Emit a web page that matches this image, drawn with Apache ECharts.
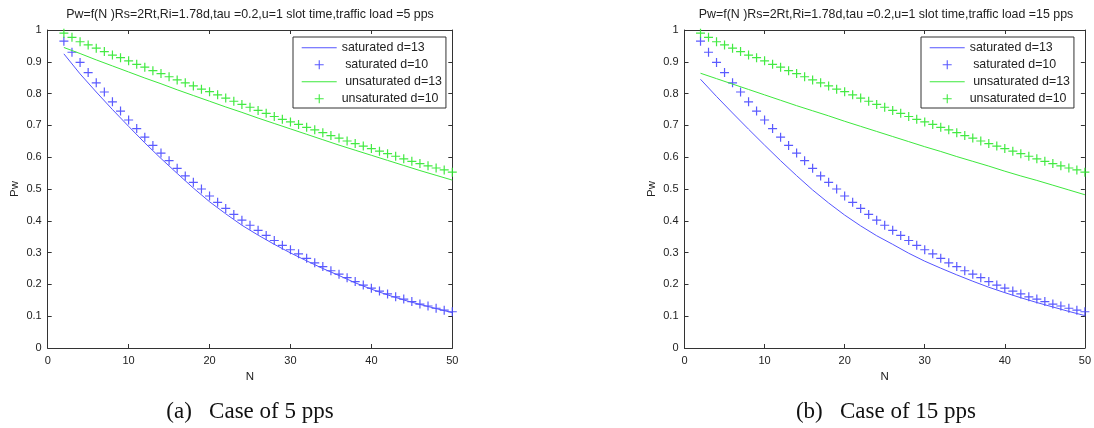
<!DOCTYPE html>
<html>
<head>
<meta charset="utf-8">
<script src="https://cdn.jsdelivr.net/npm/echarts@6/dist/echarts.min.js"></script>
<style>html,body{margin:0;padding:0;background:#fff;}#c{width:1094px;height:428px;}</style>
</head>
<body>
<div id="c"></div>
<script>
// ---- data ----
const xTicks = [0, 10, 20, 30, 40, 50];
const yTicks = [0, 0.1, 0.2, 0.3, 0.4, 0.5, 0.6, 0.7, 0.8, 0.9, 1];
const nMarkers = [2,3,4,5,6,7,8,9,10,11,12,13,14,15,16,17,18,19,20,21,22,23,24,25,26,27,28,29,30,31,32,33,34,35,36,37,38,39,40,41,42,43,44,45,46,47,48,49,50];
const nLine = [2,4,6,8,10,12,14,16,18,20,22,24,26,28,30,32,34,36,38,40,42,44,46,48,50];

// saturated d=10 (markers, same in both panels)
const satD10 = [0.965,0.930,0.898,0.866,0.834,0.805,0.774,0.745,0.717,0.690,0.663,0.637,0.613,0.589,0.565,0.541,0.521,0.500,0.478,0.458,0.439,0.420,0.402,0.386,0.370,0.354,0.338,0.323,0.309,0.296,0.282,0.268,0.256,0.243,0.232,0.221,0.209,0.198,0.188,0.179,0.170,0.161,0.154,0.146,0.138,0.132,0.125,0.119,0.114];
// unsaturated d=10 (markers, same in both panels)
const unsatD10 = [0.990,0.977,0.963,0.953,0.943,0.932,0.921,0.913,0.903,0.892,0.883,0.872,0.863,0.853,0.843,0.834,0.824,0.814,0.806,0.796,0.786,0.776,0.766,0.757,0.747,0.738,0.728,0.719,0.711,0.703,0.694,0.686,0.677,0.668,0.660,0.651,0.643,0.635,0.627,0.619,0.611,0.603,0.595,0.587,0.580,0.573,0.566,0.560,0.553];

// 5 pps lines
const satD13_5pps = [0.925,0.862,0.805,0.750,0.697,0.645,0.596,0.549,0.503,0.460,0.422,0.386,0.355,0.326,0.299,0.274,0.250,0.228,0.205,0.185,0.167,0.151,0.137,0.124,0.111];
const unsatD13_5pps = [0.945,0.926,0.906,0.887,0.868,0.849,0.831,0.812,0.794,0.776,0.758,0.741,0.723,0.706,0.689,0.672,0.655,0.638,0.622,0.606,0.590,0.574,0.558,0.543,0.528];

// 15 pps lines
const satD13_15pps = [0.845,0.791,0.739,0.688,0.638,0.589,0.542,0.497,0.456,0.418,0.384,0.353,0.326,0.298,0.273,0.251,0.230,0.210,0.191,0.174,0.158,0.143,0.129,0.115,0.102];
const unsatD13_15pps = [0.864,0.847,0.830,0.813,0.796,0.779,0.762,0.746,0.730,0.713,0.697,0.681,0.665,0.649,0.633,0.618,0.602,0.587,0.572,0.556,0.541,0.527,0.512,0.497,0.482];

const seriesNames = ['saturated d=13', ' saturated d=10', ' unsaturated d=13', 'unsaturated d=10'];
const titleA = 'Pw=f(N )Rs=2Rt,Ri=1.78d,tau =0.2,u=1 slot time,traffic load =5 pps';
const titleB = 'Pw=f(N )Rs=2Rt,Ri=1.78d,tau =0.2,u=1 slot time,traffic load =15 pps';
const captionA = '(a)\u2002 Case of 5 pps';
const captionB = '(b)\u2002 Case of 15 pps';

// ---- styles ----
const BLUE_LINE = '#5555ff', GREEN_LINE = '#3de83d';
const BLUE_MK = '#4848ff', GREEN_MK = '#2ee82e';
const PLUS = 'path://M3.9,0h1.2v9h-1.2zM0,3.9h9v1.2h-9z';
const LINE_ICON = 'path://M0,0M35,10M0,4.45h35v1.1h-35z';
const PLUS_ICON = 'path://M0,0M35,10M17,0.5h1.1v9h-1.1zM13,4.45h9v1.1h-9z';
const SANS = 'Liberation Sans';

function zip(xs, ys) { return xs.map((x, i) => [x, ys[i]]); }

const grids = [
  { left: 47.7, top: 30, width: 404.6, height: 318 },
  { left: 684.5, top: 30, width: 403.8, height: 318 }
];

const axisLineStyle = { color: '#333', width: 1 };
function xAx(g, top) {
  return {
    type: 'value', gridIndex: g, position: top ? 'top' : 'bottom',
    min: 0, max: 50, interval: 10,
    axisLine: { show: true, onZero: false, lineStyle: axisLineStyle },
    axisTick: { show: true, inside: true, length: 4, lineStyle: axisLineStyle },
    splitLine: { show: false },
    axisLabel: { show: !top, fontFamily: SANS, fontSize: 11, color: '#222', margin: 7 },
    name: top ? '' : 'N', nameLocation: 'middle', nameGap: 21,
    nameTextStyle: { fontFamily: SANS, fontSize: 11.5, color: '#222' }
  };
}
function yAx(g, right) {
  return {
    type: 'value', gridIndex: g, position: right ? 'right' : 'left',
    min: 0, max: 1, interval: 0.1,
    axisLine: { show: true, onZero: false, lineStyle: axisLineStyle },
    axisTick: { show: true, inside: true, length: 4, lineStyle: axisLineStyle },
    splitLine: { show: false },
    axisLabel: { show: !right, fontFamily: SANS, fontSize: 11, color: '#222', margin: 6 },
    name: right ? '' : 'Pw', nameLocation: 'middle', nameGap: 27, nameRotate: 90,
    nameTextStyle: { fontFamily: SANS, fontSize: 11.5, color: '#222' }
  };
}

function panelSeries(g, sat13, unsat13) {
  const xi = g * 2, yi = g * 2;
  return [
    { type: 'line', name: seriesNames[0], xAxisIndex: xi, yAxisIndex: yi, data: zip(nLine, sat13),
      showSymbol: false, symbol: 'none', lineStyle: { color: BLUE_LINE, width: 1 }, itemStyle: { color: BLUE_LINE }, z: 3 },
    { type: 'scatter', name: seriesNames[1], xAxisIndex: xi, yAxisIndex: yi, data: zip(nMarkers, satD10),
      symbol: PLUS, symbolSize: 9, itemStyle: { color: BLUE_MK, opacity: 0.9 }, z: 2 },
    { type: 'line', name: seriesNames[2], xAxisIndex: xi, yAxisIndex: yi, data: zip(nLine, unsat13),
      showSymbol: false, symbol: 'none', lineStyle: { color: GREEN_LINE, width: 1 }, itemStyle: { color: GREEN_LINE }, z: 3 },
    { type: 'scatter', name: seriesNames[3], xAxisIndex: xi, yAxisIndex: yi, data: zip(nMarkers, unsatD10),
      symbol: PLUS, symbolSize: 9, itemStyle: { color: GREEN_MK, opacity: 0.9 }, z: 2 }
  ];
}

function legend(left) {
  return {
    orient: 'vertical', left: left, top: 37,
    padding: [4.7, 4, 3.3, 8.7],
    itemWidth: 35, itemHeight: 10, itemGap: 5,
    borderColor: '#333', borderWidth: 1, backgroundColor: '#fff',
    selectedMode: false,
    itemStyle: { borderWidth: 0 },
    lineStyle: { width: 0 },
    textStyle: { fontFamily: SANS, fontSize: 12.4, color: '#222', width: 100, lineHeight: 10 },
    data: [
      { name: seriesNames[0], icon: LINE_ICON },
      { name: seriesNames[1], icon: PLUS_ICON },
      { name: seriesNames[2], icon: LINE_ICON },
      { name: seriesNames[3], icon: PLUS_ICON }
    ],
    z: 10
  };
}

const titleStyle = { fontFamily: SANS, fontSize: 12.4, fontWeight: 'normal', color: '#222' };
const capStyle = { fontFamily: 'Liberation Serif', fontSize: 23, fontWeight: 'normal', color: '#111' };

const option = {
  animation: false,
  backgroundColor: '#fff',
  title: [
    { text: titleA, left: 250, top: 9, textAlign: 'center', padding: 0, textStyle: titleStyle },
    { text: titleB, left: 886, top: 9, textAlign: 'center', padding: 0, textStyle: titleStyle },
    { text: captionA, left: 250, top: 400, textAlign: 'center', padding: 0, textStyle: capStyle },
    { text: captionB, left: 886, top: 400, textAlign: 'center', padding: 0, textStyle: capStyle }
  ],
  legend: [legend(293), legend(921)],
  grid: grids,
  xAxis: [xAx(0, false), xAx(0, true), xAx(1, false), xAx(1, true)],
  yAxis: [yAx(0, false), yAx(0, true), yAx(1, false), yAx(1, true)],
  series: [].concat(
    panelSeries(0, satD13_5pps, unsatD13_5pps),
    panelSeries(1, satD13_15pps, unsatD13_15pps)
  )
};
// second-panel series use the second grid's bottom x axis (index 2) and left y axis (index 2)
option.series.forEach((s, i) => {
  if (i >= 4) { s.xAxisIndex = 2; s.yAxisIndex = 2; } else { s.xAxisIndex = 0; s.yAxisIndex = 0; }
});

const chart = echarts.init(document.getElementById('c'), null, { renderer: 'canvas' });
chart.setOption(option);
</script>
</body>
</html>
